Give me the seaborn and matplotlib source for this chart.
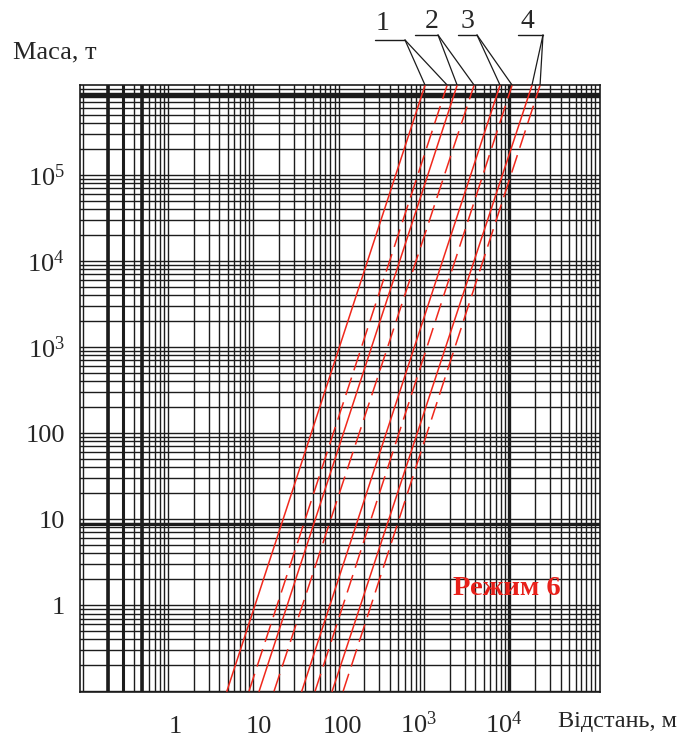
import numpy as np
import pandas as pd
import matplotlib
matplotlib.use("Agg")
import matplotlib.pyplot as plt
import matplotlib.transforms as mtransforms
from matplotlib.ticker import LogLocator, NullFormatter
from matplotlib.lines import Line2D
import seaborn as sns

# ---------------- data ----------------
mass_ends = [0.1, 1.1e6]                 # Маса, т  (start / end of every line)
dist_1_solid = [4.9, 1030]               # Відстань, м
dist_1_dashed = [8.9, 1870]
dist_2_solid = [11.7, 2450]
dist_2_dashed = [17.5, 3870]
dist_3_solid = [37.0, 7800]
dist_3_dashed = [53.0, 10800]
dist_4_solid = [84.0, 18500]
dist_4_dashed = [113.0, 23000]

curve_names = ["1", "2", "3", "4"]
x_tick_values = [1, 10, 100, 1000, 10000]
x_tick_labels = ["1", "10", "100", r"$\mathregular{10^3}$", r"$\mathregular{10^4}$"]
y_tick_values = [1, 10, 100, 1000, 10000, 100000]
y_tick_labels = ["1", "10", "100", r"$\mathregular{10^3}$", r"$\mathregular{10^4}$", r"$\mathregular{10^5}$"]
x_label = "Відстань, м"
y_label = "Маса, т"
mode_label = "Режим 6"

# ---------------- styling ----------------
sns.set_style("white")
plt.rcParams["font.family"] = ["Liberation Serif", "DejaVu Serif"]
plt.rcParams["mathtext.default"] = "regular"

W, H = 688, 740
fig = plt.figure(figsize=(W / 100, H / 100), dpi=100)
ax = fig.add_axes([80 / W, 48 / H, 520 / W, 607 / H])
ax.set_xscale("log")
ax.set_yscale("log")

series = {
    ("1", "solid"): dist_1_solid, ("1", "dashed"): dist_1_dashed,
    ("2", "solid"): dist_2_solid, ("2", "dashed"): dist_2_dashed,
    ("3", "solid"): dist_3_solid, ("3", "dashed"): dist_3_dashed,
    ("4", "solid"): dist_4_solid, ("4", "dashed"): dist_4_dashed,
}
rows = []
for (curve, variant), d in series.items():
    for xv, yv in zip(d, mass_ends):
        rows.append({"distance": xv, "mass": yv, "line": f"{curve}{variant}",
                     "variant": variant})
df = pd.DataFrame(rows)

red = "#f0281c"
sns.lineplot(data=df, x="distance", y="mass", units="line", estimator=None,
             style="variant", dashes={"solid": "", "dashed": (12, 5)},
             color=red, linewidth=1.1, legend=False, sort=False, ax=ax, zorder=3)

ax.set_xlim(0.093, 1.16e5)
ax.set_ylim(0.098, 1.11e6)

# log-paper grid
for axis in (ax.xaxis, ax.yaxis):
    axis.set_minor_locator(LogLocator(base=10, subs=np.arange(1, 10), numticks=60))
    axis.set_minor_formatter(NullFormatter())
ax.grid(True, which="both", color="#1c1c1c", linewidth=1.0)
ax.set_axisbelow(True)

# heavier lines of the paper
for xv, lw in [(0.2, 2.6), (0.3, 2.2), (0.5, 2.6), (10000, 2.4)]:
    ax.axvline(xv, color="#1c1c1c", lw=lw, zorder=1)
for yv, lw in [(8.75, 2.2), (8.5e5, 2.2)]:
    ax.axhline(yv, color="#1c1c1c", lw=lw, zorder=1)

for sp in ax.spines.values():
    sp.set_color("#1c1c1c")
    sp.set_linewidth(1.2)

ax.set_xticks(x_tick_values)
ax.set_xticklabels(x_tick_labels)
ax.set_yticks(y_tick_values)
ax.set_yticklabels(y_tick_labels)
ax.tick_params(axis="both", which="both", length=0)
ax.tick_params(axis="x", which="major", pad=29.5, labelsize=19)
ax.tick_params(axis="y", which="major", pad=11, labelsize=19)
x_label_shift_px = [7, 6, 4, -5, -5]
for lbl, dx in zip(ax.get_xticklabels(), x_label_shift_px):
    lbl.set_verticalalignment("baseline")
    lbl.set_transform(lbl.get_transform() +
                      mtransforms.ScaledTranslation(dx / 100, 0, fig.dpi_scale_trans))
ax.set_xlabel("")
ax.set_ylabel("")

fig.text(13 / W, 1 - 52 / H, y_label, fontsize=19, ha="left", va="center")
fig.text(558 / W, 1 - 722 / H, x_label, fontsize=17.5, ha="left", va="center")

ax.text(0.821, 0.170, mode_label, transform=ax.transAxes, fontsize=20.5,
        fontweight="bold", color="#e8201a", ha="center", va="center")

# curve number labels with leader lines
ymax = ax.get_ylim()[1]
label_layout = [  # text x, text y, bar x0, bar x1, bar y (pixels from top-left)
    (383, 24, 375, 405, 40),
    (432, 22, 415, 438, 35),
    (467, 22, 458, 477, 35),
    (527, 22, 518, 543, 35),
]
pairs = [(dist_1_solid, dist_1_dashed), (dist_2_solid, dist_2_dashed),
         (dist_3_solid, dist_3_dashed), (dist_4_solid, dist_4_dashed)]
for name, (tx, ty, bx0, bx1, by), (ds, dd) in zip(curve_names, label_layout, pairs):
    fig.text(tx / W, 1 - ty / H, name, fontsize=20, ha="center", va="center")
    fig.add_artist(Line2D([bx0 / W, bx1 / W], [1 - by / H, 1 - by / H],
                          transform=fig.transFigure, color="#1c1c1c", lw=1.0))
    for d in (ds, dd):
        ax.annotate("", xy=(d[1], ymax), xycoords="data",
                    xytext=(bx1, H - by), textcoords="figure pixels",
                    arrowprops=dict(arrowstyle="-", color="#1c1c1c", lw=0.9,
                                    shrinkA=0, shrinkB=0),
                    annotation_clip=False)

fig.savefig("out.png", dpi=100)
